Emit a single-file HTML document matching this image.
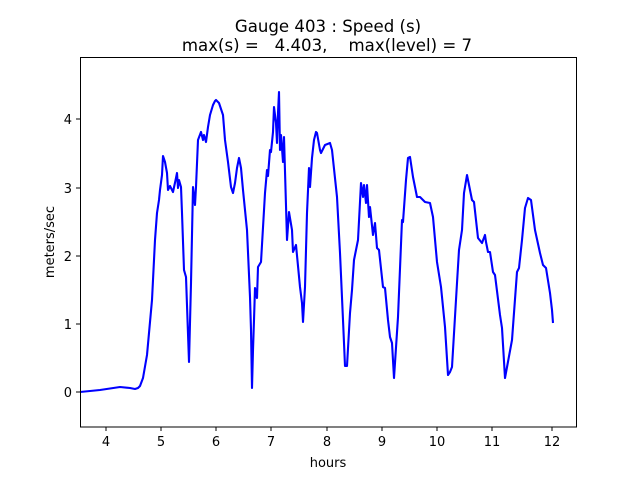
<!DOCTYPE html>
<html><head><meta charset="utf-8"><style>body{margin:0;background:#fff}svg{display:block}text{font-family:"DejaVu Sans","Liberation Sans",sans-serif;fill:#000}</style></head><body>
<svg width="640" height="480" viewBox="0 0 640 480">
<rect width="640" height="480" fill="#fff"/>
<text x="328" y="32" font-size="16.6" text-anchor="middle">Gauge 403 : Speed (s)</text>
<text x="327" y="51" font-size="16.6" text-anchor="middle" xml:space="preserve">max(s) =   4.403,    max(level) = 7</text>
<polyline fill="none" stroke="#0000ff" stroke-width="2.1" stroke-linejoin="round" points="80,392 100,390 120,387 130,388 135,389 138,388 140,386 143,378 147,355 152,300 155,240 157,213 159,200 160,190 162,175 163,156 165,162 167,173 168,190 170,186 173,192 176,178 177,173 178,188 179,180 181,187 182,213 184,270 186,277 189,362 191,283 193,187 195,205 196,187 198,140 201,132 203,140 204,135 206,142 208,127 210,115 213,105 215,101 216,100 219,103 223,115 225,140 228,162 231,187 233,193 235,183 237,168 239,158 241,168 243,190 247,230 250,297 251,330 252,388 253,350 254,320 255,288 257,298 258,267 261,262 265,193 267,170 268,176 270,150 271,152 273,132 274,107 276,123 277,143 278,113 279,92 280,150 281,135 283,162 284,137 287,240 289,212 292,230 293,252 296,245 300,287 302,303 303,322 305,287 307,213 309,168 310,187 312,158 314,140 316,132 317,133 320,150 321,153 325,145 330,143 332,150 337,197 340,253 343,320 345,366 347,366 350,313 352,290 354,260 358,240 361,183 363,197 364,185 366,203 367,185 369,217 370,207 373,235 375,223 377,248 379,250 383,287 385,288 388,320 390,337 392,343 394,378 398,317 402,220 403,222 406,180 408,158 410,157 413,177 417,197 420,197 425,202 430,203 433,217 437,262 441,287 445,327 448,375 450,372 452,367 457,283 459,250 462,230 464,193 467,175 472,200 474,202 478,238 482,243 485,235 486,242 488,252 490,252 493,272 495,275 500,315 502,328 505,378 512,340 517,272 519,268 522,240 525,208 528,198 531,200 535,230 540,253 543,265 546,268 550,293 552,310 553,323"/>
<rect x="80.5" y="57.5" width="496" height="369.5" fill="none" stroke="#000" stroke-width="1"/>
<g stroke="#000" stroke-width="1">
<line x1="106" y1="427" x2="106" y2="431"/><line x1="161" y1="427" x2="161" y2="431"/><line x1="216" y1="427" x2="216" y2="431"/><line x1="271" y1="427" x2="271" y2="431"/><line x1="327" y1="427" x2="327" y2="431"/><line x1="382" y1="427" x2="382" y2="431"/><line x1="437" y1="427" x2="437" y2="431"/><line x1="492" y1="427" x2="492" y2="431"/><line x1="552" y1="427" x2="552" y2="431"/>
<line x1="76" y1="392" x2="80" y2="392"/><line x1="76" y1="324" x2="80" y2="324"/><line x1="76" y1="256" x2="80" y2="256"/><line x1="76" y1="188" x2="80" y2="188"/><line x1="76" y1="119" x2="80" y2="119"/>
</g>
<g font-size="13" text-anchor="middle">
<text x="106" y="446">4</text><text x="161" y="446">5</text><text x="216" y="446">6</text><text x="271" y="446">7</text><text x="327" y="446">8</text><text x="382" y="446">9</text><text x="437" y="446">10</text><text x="492" y="446">11</text><text x="552" y="446">12</text>
</g>
<g font-size="13" text-anchor="end">
<text x="72" y="397">0</text><text x="72" y="329">1</text><text x="72" y="261">2</text><text x="72" y="193">3</text><text x="72" y="124">4</text>
</g>
<text x="328" y="467" font-size="13" text-anchor="middle">hours</text>
<text transform="translate(54,242) rotate(-90)" font-size="13" text-anchor="middle">meters/sec</text>
</svg>
</body></html>
